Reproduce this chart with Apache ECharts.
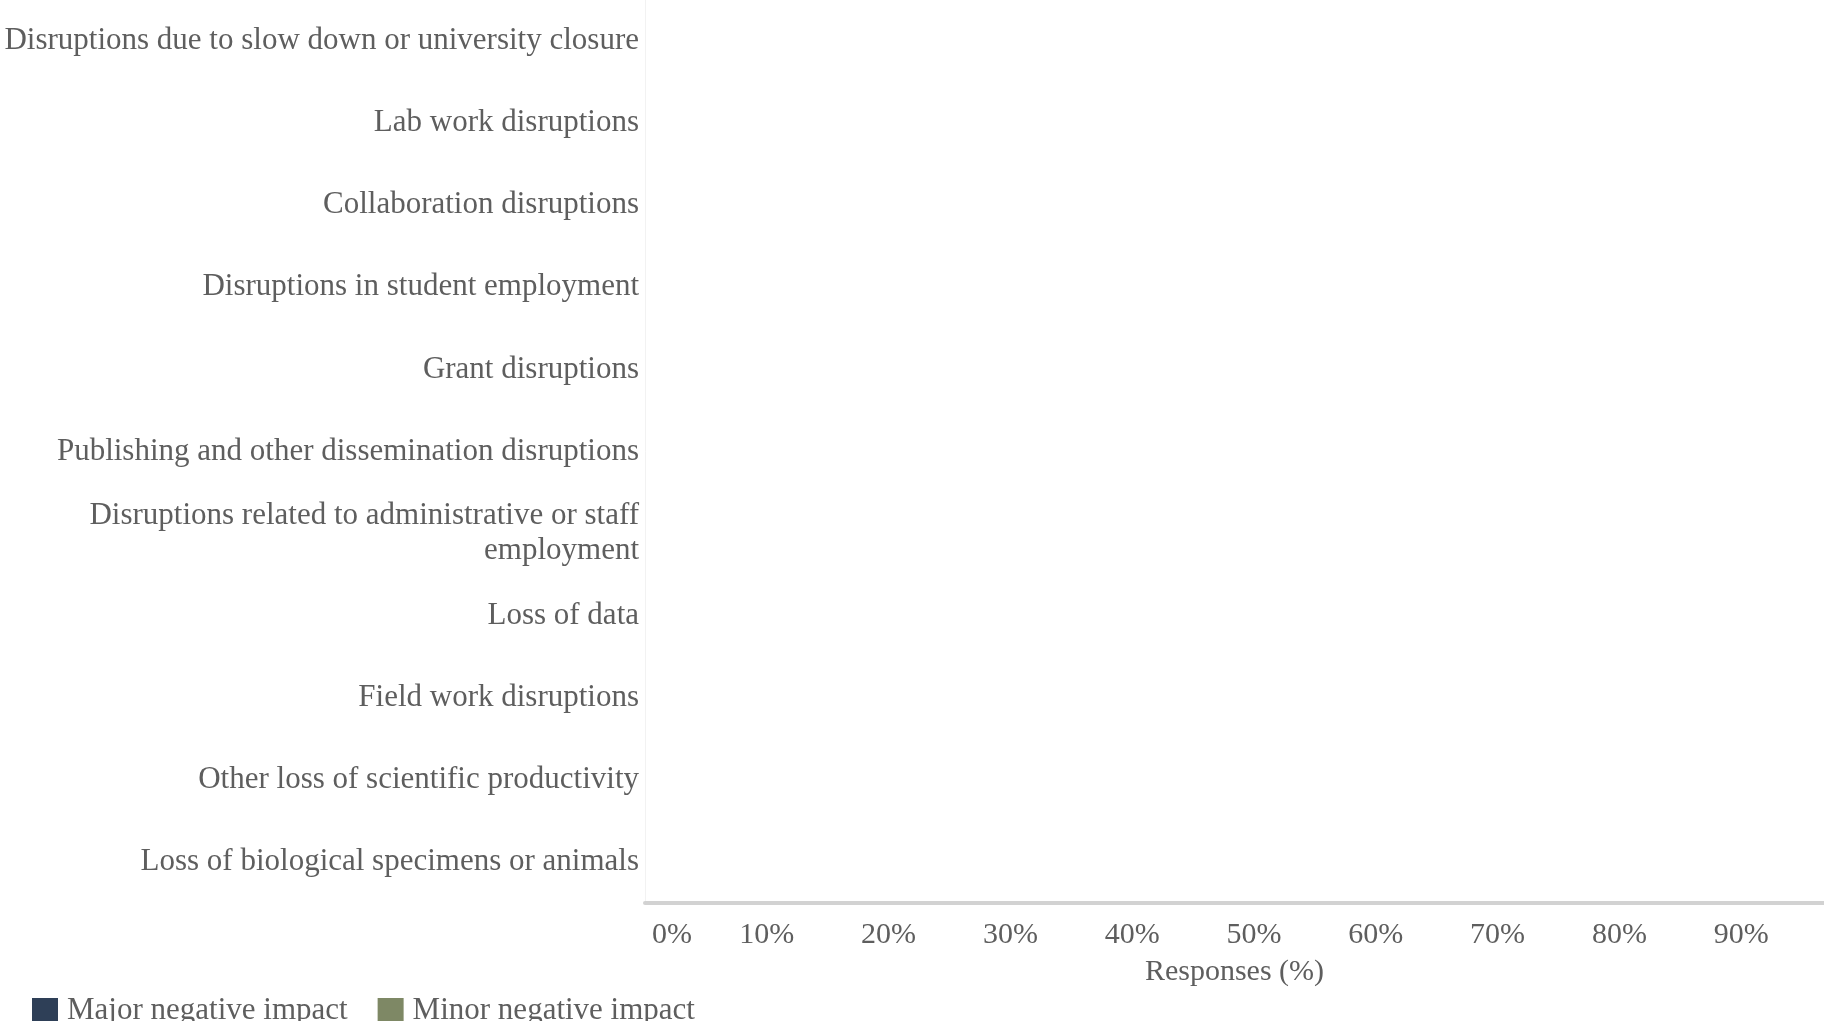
<!DOCTYPE html>
<html>
<head>
<meta charset="utf-8">
<script src="https://cdn.jsdelivr.net/npm/echarts@6/dist/echarts.min.js"></script>
<style>
  html, body { margin: 0; padding: 0; background: #fff; }
  #chart { width: 1824px; height: 1021px; }
</style>
</head>
<body>
<div id="chart"></div>
<script>
// categories, top to bottom
const categories = [
  'Disruptions due to slow down or university closure',
  'Lab work disruptions',
  'Collaboration disruptions',
  'Disruptions in student employment',
  'Grant disruptions',
  'Publishing and other dissemination disruptions',
  'Disruptions related to administrative or staff\nemployment',
  'Loss of data',
  'Field work disruptions',
  'Other loss of scientific productivity',
  'Loss of biological specimens or animals'
]

// no bars are visible in the reference picture, so the series carry no values
const majorImpact = [null, null, null, null, null, null, null, null, null, null, null]
const minorImpact = [null, null, null, null, null, null, null, null, null, null, null]

const seriesNames = ['Major negative impact', 'Minor negative impact']
// tick labels shown (the picture is cut off just before 100%)
const xTickLabels = ['0%', '10%', '20%', '30%', '40%', '50%', '60%', '70%', '80%', '90%']

const textColor = '#5e5e5e'
const serif = '"Liberation Serif", "DejaVu Serif", serif'

const chart = echarts.init(document.getElementById('chart'))

const option = {
  backgroundColor: '#ffffff',
  animation: false,
  textStyle: { fontFamily: serif },
  legend: {
    data: seriesNames,
    left: 27,
    top: 990,
    itemWidth: 26,
    itemHeight: 25,
    itemGap: 30,
    icon: 'rect',
    textStyle: { fontFamily: serif, fontSize: 31, color: textColor, padding: [0, 0, 0, 4] }
  },
  grid: {
    left: 645,
    right: 0,
    top: -7,
    bottom: 118,
    containLabel: false
  },
  xAxis: {
    type: 'value',
    min: 0,
    max: 96.8,
    interval: 10,
    name: 'Responses (%)',
    nameLocation: 'middle',
    nameGap: 54,
    nameTextStyle: { fontFamily: serif, fontSize: 30, color: textColor },
    axisLine: { show: true, lineStyle: { color: '#d2d2d2', width: 4 } },
    axisTick: { show: false },
    splitLine: { show: false },
    axisLabel: {
      margin: 17,
      showMaxLabel: false,
      fontFamily: serif,
      fontSize: 30,
      color: textColor,
      formatter: v => {
        const label = xTickLabels[Math.round(v / 10)]
        if (label === undefined || v % 10 !== 0) return ''
        return v === 0 ? '{first|' + label + '}' : label
      },
      rich: {
        first: { fontFamily: serif, fontSize: 30, color: textColor, padding: [0, 0, 0, 54] }
      }
    }
  },
  yAxis: {
    type: 'category',
    data: categories,
    inverse: true,
    axisLine: { show: true, lineStyle: { color: '#f2f2f2', width: 1 } },
    axisTick: { show: false },
    axisLabel: {
      margin: 6,
      fontFamily: serif,
      fontSize: 31,
      lineHeight: 35,
      color: textColor,
      align: 'right'
    }
  },
  series: [
    {
      name: seriesNames[0],
      type: 'bar',
      stack: 'impact',
      barWidth: '55%',
      itemStyle: { color: '#2e3f57' },
      data: majorImpact
    },
    {
      name: seriesNames[1],
      type: 'bar',
      stack: 'impact',
      itemStyle: { color: '#7e8865' },
      data: minorImpact
    }
  ]
}

chart.setOption(option)
</script>
</body>
</html>
